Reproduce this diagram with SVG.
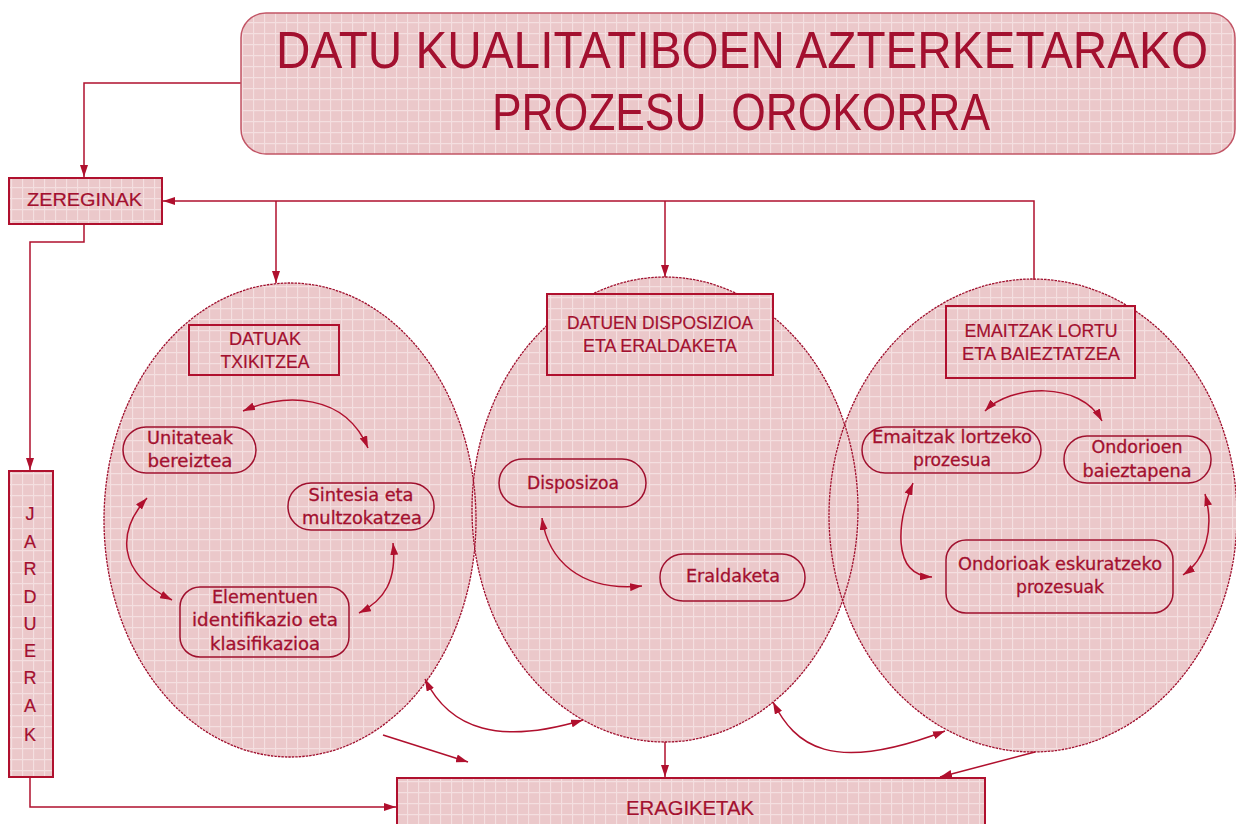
<svg xmlns="http://www.w3.org/2000/svg" width="1236" height="824" viewBox="0 0 1236 824">
<style>
.t{fill:#a3102f;font-family:"Liberation Sans",Arial,sans-serif;}
.b{fill:#a3102f;stroke:#a3102f;stroke-width:0.3;font-family:"DejaVu Sans","Liberation Sans",sans-serif;font-size:17px;}
.hdr{font-size:18px;stroke:#a3102f;stroke-width:0.2;}
.ttl{font-size:47px;}
.box{fill:url(#grid);stroke:#b0102e;stroke-width:2;}
.node{fill:url(#grid);stroke:#a0102e;stroke-width:1.5;}
.ell{fill:url(#grid);stroke:none;}
.ello{fill:none;stroke:#a0102e;stroke-width:1.3;stroke-dasharray:2.5 1;}
.c{fill:none;stroke:#b0102e;stroke-width:1.5;}
</style>
<defs>
<pattern id="grid" patternUnits="userSpaceOnUse" width="11" height="11">
<rect width="11" height="11" fill="#ebc8ca"/>
<path d="M0.5 0V11M0 0.5H11" stroke="#f4dfe0" stroke-width="1.3"/>
</pattern>
<marker id="ah" viewBox="0 0 12 8" refX="12" refY="4" markerWidth="12" markerHeight="8" markerUnits="userSpaceOnUse" orient="auto-start-reverse">
<path d="M0 0L12 4L0 8z" fill="#b0102e"/>
</marker>
</defs>
<rect width="1236" height="824" fill="#ffffff"/>

<g id="ellipse-fills">
<ellipse class="ell" cx="290" cy="520" rx="186" ry="237"/>
<ellipse class="ell" cx="665" cy="509.5" rx="193" ry="232.5"/>
<ellipse class="ell" cx="1033" cy="515.5" rx="204" ry="236.5"/>
</g>
<g id="ellipse-outlines">
<ellipse id="ell-txikitzea" class="ello" cx="290" cy="520" rx="186" ry="237"/>
<ellipse id="ell-disposizioa" class="ello" cx="665" cy="509.5" rx="193" ry="232.5"/>
<ellipse id="ell-emaitzak" class="ello" cx="1033" cy="515.5" rx="204" ry="236.5"/>
</g>

<g id="connectors">
<path class="c" d="M241 83H84V177" marker-end="url(#ah)"/>
<path class="c" d="M1034 280V201H163" marker-end="url(#ah)"/>
<path class="c" d="M276 201V283" marker-end="url(#ah)"/>
<path class="c" d="M665 201V277" marker-end="url(#ah)"/>
<path class="c" d="M84 224V242H30V470" marker-end="url(#ah)"/>
<path class="c" d="M30 777V807H396" marker-end="url(#ah)"/>
<path class="c" d="M383 735L468 762" marker-end="url(#ah)"/>
<path class="c" d="M665 742V777" marker-end="url(#ah)"/>
<path class="c" d="M1035 752L940 777" marker-end="url(#ah)"/>
<path class="c" d="M425 679C450 730 500 745 583 720" marker-start="url(#ah)" marker-end="url(#ah)"/>
<path class="c" d="M773 702C795 745 830 775 945 731" marker-start="url(#ah)" marker-end="url(#ah)"/>
<path class="c" d="M243 411C285 393 345 393 368 448" marker-start="url(#ah)" marker-end="url(#ah)"/>
<path class="c" d="M147 498C118 530 115 572 172 600" marker-start="url(#ah)" marker-end="url(#ah)"/>
<path class="c" d="M393 543C397 580 385 600 359 613" marker-start="url(#ah)" marker-end="url(#ah)"/>
<path class="c" d="M542 518C548 560 580 592 642 586" marker-start="url(#ah)" marker-end="url(#ah)"/>
<path class="c" d="M985 411C1010 385 1080 380 1102 421" marker-start="url(#ah)" marker-end="url(#ah)"/>
<path class="c" d="M913 483C898 520 890 575 932 577" marker-start="url(#ah)" marker-end="url(#ah)"/>
<path class="c" d="M1205 494C1215 530 1205 560 1183 575" marker-start="url(#ah)" marker-end="url(#ah)"/>
</g>

<g id="title">
<rect x="241" y="13" width="994" height="141" rx="25" fill="url(#grid)" stroke="#c25566" stroke-width="1.5"/>
<text class="t ttl" transform="translate(742 68) scale(1 1.12)" x="0" y="0" text-anchor="middle" textLength="932" lengthAdjust="spacingAndGlyphs">DATU KUALITATIBOEN AZTERKETARAKO</text>
<text class="t ttl" transform="translate(741 130) scale(1 1.12)" x="0" y="0" text-anchor="middle" textLength="498" lengthAdjust="spacingAndGlyphs" xml:space="preserve">PROZESU  OROKORRA</text>
</g>

<g id="zereginak">
<rect class="box" x="9" y="178" width="153" height="46"/>
<text class="t hdr" x="84.5" y="206" text-anchor="middle" textLength="115" lengthAdjust="spacingAndGlyphs">ZEREGINAK</text>
</g>

<g id="jarduerak">
<rect class="box" x="9" y="471" width="44" height="306"/>
<g class="t hdr" text-anchor="middle">
<text x="30" y="520">J</text>
<text x="30" y="548">A</text>
<text x="30" y="575">R</text>
<text x="30" y="603">D</text>
<text x="30" y="630">U</text>
<text x="30" y="657">E</text>
<text x="30" y="684">R</text>
<text x="30" y="712">A</text>
<text x="30" y="741">K</text>
</g>
</g>

<g id="eragiketak">
<rect class="box" x="397" y="778" width="588" height="60"/>
<text class="t hdr" x="626" y="815" textLength="128" lengthAdjust="spacingAndGlyphs" style="font-size:20px">ERAGIKETAK</text>
</g>

<g id="hdr-txikitzea">
<rect class="box" x="189" y="325" width="150" height="50"/>
<text class="t hdr" x="265" y="345" text-anchor="middle" textLength="72" lengthAdjust="spacingAndGlyphs">DATUAK</text>
<text class="t hdr" x="265" y="368" text-anchor="middle" textLength="89" lengthAdjust="spacingAndGlyphs">TXIKITZEA</text>
</g>

<g id="hdr-disposizioa">
<rect class="box" x="547" y="294" width="226" height="81"/>
<text class="t hdr" x="660" y="329" text-anchor="middle" textLength="186" lengthAdjust="spacingAndGlyphs">DATUEN DISPOSIZIOA</text>
<text class="t hdr" x="660" y="352" text-anchor="middle" textLength="154" lengthAdjust="spacingAndGlyphs">ETA ERALDAKETA</text>
</g>

<g id="hdr-emaitzak">
<rect class="box" x="946" y="306" width="189" height="72"/>
<text class="t hdr" x="1041" y="337" text-anchor="middle" textLength="153" lengthAdjust="spacingAndGlyphs">EMAITZAK LORTU</text>
<text class="t hdr" x="1041" y="360" text-anchor="middle" textLength="158" lengthAdjust="spacingAndGlyphs">ETA BAIEZTATZEA</text>
</g>

<g id="unitateak">
<rect class="node" x="123" y="427" width="133" height="46" rx="23"/>
<text class="b" x="190" y="444" text-anchor="middle" textLength="86" lengthAdjust="spacingAndGlyphs">Unitateak</text>
<text class="b" x="190" y="467" text-anchor="middle" textLength="85" lengthAdjust="spacingAndGlyphs">bereiztea</text>
</g>

<g id="sintesia">
<rect class="node" x="288" y="483" width="146" height="47" rx="23"/>
<text class="b" x="361" y="501" text-anchor="middle" textLength="105" lengthAdjust="spacingAndGlyphs">Sintesia eta</text>
<text class="b" x="362" y="524" text-anchor="middle" textLength="120" lengthAdjust="spacingAndGlyphs">multzokatzea</text>
</g>

<g id="elementuen">
<rect class="node" x="180" y="587" width="169" height="70" rx="20"/>
<text class="b" x="265" y="603" text-anchor="middle" textLength="106" lengthAdjust="spacingAndGlyphs">Elementuen</text>
<text class="b" x="265" y="626" text-anchor="middle" textLength="146" lengthAdjust="spacingAndGlyphs">identifikazio eta</text>
<text class="b" x="265" y="650" text-anchor="middle" textLength="110" lengthAdjust="spacingAndGlyphs">klasifikazioa</text>
</g>

<g id="disposizoa">
<rect class="node" x="499" y="459" width="147" height="48" rx="24"/>
<text class="b" x="573" y="489" text-anchor="middle" textLength="92" lengthAdjust="spacingAndGlyphs">Disposizoa</text>
</g>

<g id="eraldaketa">
<rect class="node" x="660" y="554" width="145" height="47" rx="23"/>
<text class="b" x="733" y="582" text-anchor="middle" textLength="94" lengthAdjust="spacingAndGlyphs">Eraldaketa</text>
</g>

<g id="emaitzak-lortzeko">
<rect class="node" x="862" y="427" width="179" height="46" rx="23"/>
<text class="b" x="952" y="443" text-anchor="middle" textLength="160" lengthAdjust="spacingAndGlyphs">Emaitzak lortzeko</text>
<text class="b" x="952" y="466" text-anchor="middle" textLength="78" lengthAdjust="spacingAndGlyphs">prozesua</text>
</g>

<g id="ondorioen">
<rect class="node" x="1064" y="436" width="147" height="47" rx="23"/>
<text class="b" x="1137" y="453" text-anchor="middle" textLength="91" lengthAdjust="spacingAndGlyphs">Ondorioen</text>
<text class="b" x="1137" y="477" text-anchor="middle" textLength="109" lengthAdjust="spacingAndGlyphs">baieztapena</text>
</g>

<g id="ondorioak">
<rect class="node" x="946" y="540" width="227" height="73" rx="20"/>
<text class="b" x="1060" y="570" text-anchor="middle" textLength="204" lengthAdjust="spacingAndGlyphs">Ondorioak eskuratzeko</text>
<text class="b" x="1060" y="593" text-anchor="middle" textLength="88" lengthAdjust="spacingAndGlyphs">prozesuak</text>
</g>
</svg>
